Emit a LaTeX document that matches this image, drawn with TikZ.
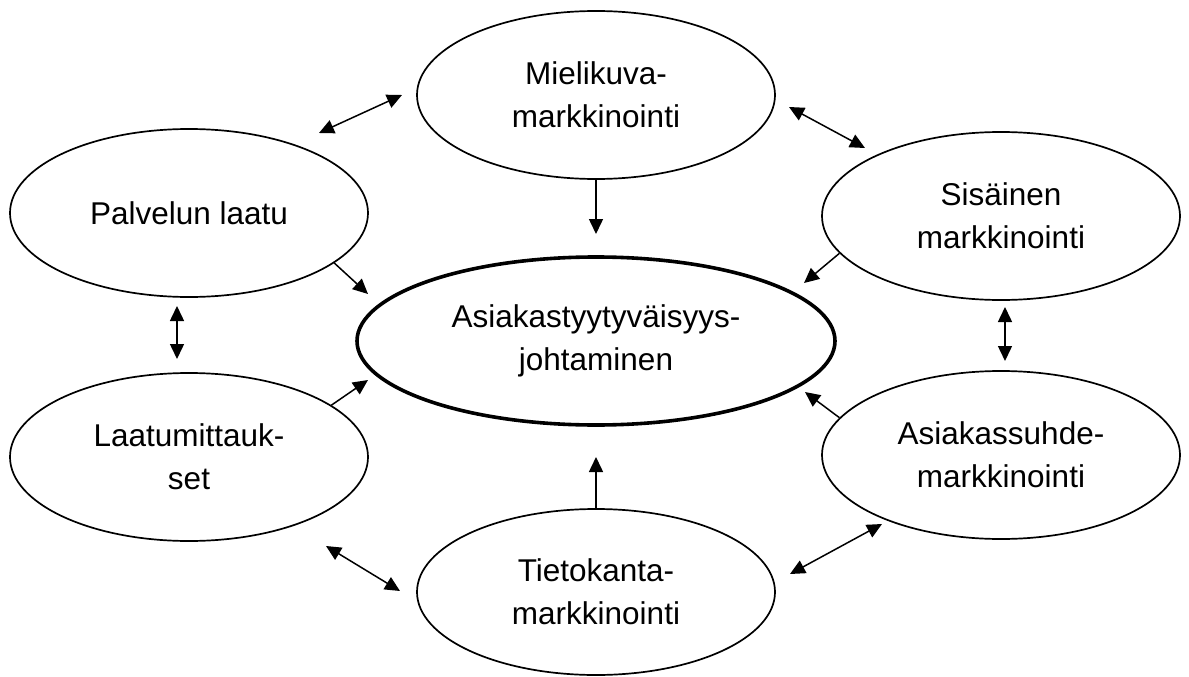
\documentclass[tikz,border=0pt]{standalone}
\usepackage{fontspec}
\setmainfont{Liberation Sans}
\usetikzlibrary{arrows.meta,shapes.geometric}
\begin{document}
\begin{tikzpicture}[x=1pt,y=-1pt,
  bubble/.style={ellipse, draw, line width=1.7pt, inner sep=0pt,
    minimum width=358pt, minimum height=168pt, align=center,
    font=\fontsize{31.5}{43}\selectfont},
  hub/.style={bubble, line width=3.6pt, minimum width=478pt},
  tip/.tip={Triangle[length=15pt,width=14pt]},
  link/.style={line width=1.5pt, -tip},
  duplex/.style={line width=1.5pt, tip-tip}]
\useasboundingbox (0,0) rectangle (1189,677);

% ellipses
\node[hub]    (hub)   at (596,341) {Asiakastyytyväisyys-\\johtaminen};
\node[bubble] (mieli) at (596,95)  {Mielikuva-\\markkinointi};
\node[bubble] (palv)  at (189,213) {Palvelun laatu};
\node[bubble] (sis)   at (1001,216) {Sisäinen\\markkinointi};
\node[bubble] (laatu) at (189,457) {Laatumittauk-\\set};
\node[bubble] (asiak) at (1001,455) {Asiakassuhde-\\markkinointi};
\node[bubble, minimum height=166pt] (tieto) at (596,592) {Tietokanta-\\markkinointi};

% free ends of the connectors
\coordinate (mieliIn) at (596,234);
\coordinate (palvIn)  at (368,294);
\coordinate (sisIn)   at (804,283);
\coordinate (laatuIn) at (368,380);
\coordinate (asiakIn) at (805,392);
\coordinate (tietoIn) at (596,457);

\coordinate (pmA) at (319,133); \coordinate (pmB) at (402,95);
\coordinate (msA) at (789,107); \coordinate (msB) at (865,148);
\coordinate (plA) at (177,306); \coordinate (plB) at (177,359);
\coordinate (saA) at (1005,307); \coordinate (saB) at (1005,361);
\coordinate (ltA) at (326,546); \coordinate (ltB) at (400,591);
\coordinate (atA) at (882,524); \coordinate (atB) at (790,574);

% arrows into the hub
\draw[link] (mieli.south) -- (mieliIn);
\draw[link] (palv.-19.3) -- (palvIn);
\draw[link] (sis.193.6) -- (sisIn);
\draw[link] (laatu.20.8) -- (laatuIn);
\draw[link] (asiak.167.1) -- (asiakIn);
\draw[link] (tieto.north) -- (tietoIn);

% two-way links between the outer ellipses
\draw[duplex] (pmA) -- (pmB);
\draw[duplex] (msA) -- (msB);
\draw[duplex] (plA) -- (plB);
\draw[duplex] (saA) -- (saB);
\draw[duplex] (ltA) -- (ltB);
\draw[duplex] (atA) -- (atB);
\end{tikzpicture}
\end{document}
